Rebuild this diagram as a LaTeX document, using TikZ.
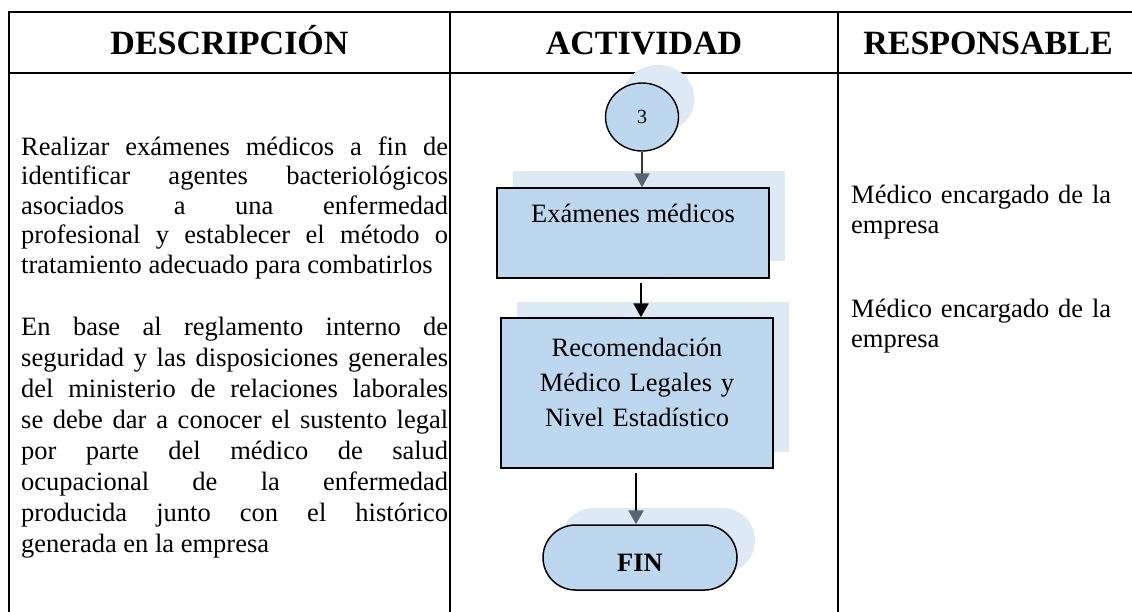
\documentclass[tikz,border=0pt]{standalone}
\usepackage{fontspec}
\setmainfont{Liberation Serif}
\usetikzlibrary{arrows.meta,shapes.misc,shapes.geometric,calc}
\definecolor{boxfill}{RGB}{189,215,238}
\definecolor{shadowc}{RGB}{221,233,245}
\definecolor{slate}{RGB}{90,100,112}
\begin{document}
\begin{tikzpicture}[x=1pt,y=-1pt,
  tabline/.style={line width=1.6pt, line cap=rect},
  headtxt/.style={font=\fontsize{34}{40}\selectfont\bfseries, anchor=base, inner sep=0pt},
  bodytxt/.style={font=\fontsize{26.5}{30}\selectfont, inner sep=0pt},
  procbox/.style={draw=black, line width=1.5pt, fill=boxfill, rectangle, inner sep=0pt},
  shbox/.style={fill=shadowc, draw=none, rectangle, inner sep=0pt},
  conncirc/.style={draw=black, line width=1.4pt, fill=boxfill, ellipse, inner sep=0pt, minimum width=73pt, minimum height=68pt},
  shcirc/.style={fill=shadowc, draw=none, ellipse, inner sep=0pt, minimum width=73pt, minimum height=68pt},
  term/.style={draw=black, line width=1.5pt, fill=boxfill, rounded rectangle, inner sep=0pt, minimum width=194pt, minimum height=65pt},
  shterm/.style={fill=shadowc, draw=none, rounded rectangle, inner sep=0pt, minimum width=194pt, minimum height=65pt},
  flowarr/.style={line width=2.6pt},
  sharr/.style={line width=2.6pt, draw=shadowc, -{Triangle[width=15pt,length=14pt]}}
]
\useasboundingbox (0,0) rectangle (1132,611);

% table
\draw[tabline] (9,611) -- (9,12) -- (1132,12);
\draw[tabline] (9,73) -- (1132,73);
\draw[tabline] (450,12) -- (450,611);
\draw[tabline] (838,12) -- (838,611);

% headers
\node[headtxt] (h1) at (229.5,54) {DESCRIPCIÓN};
\node[headtxt] (h2) at (644,54) {ACTIVIDAD};
\node[headtxt] (h3) at (988,54) {RESPONSABLE};

% shadows
\node[shcirc] (sc3) at (658,99) {};
\node[shbox, minimum width=272pt, minimum height=90pt] (sb1) at (649,216) {};
\node[shbox, minimum width=272pt, minimum height=150pt] (sb2) at (653,377) {};
\node[shterm] (sfin) at (658,540.5) {};
\draw[sharr] ($(sb1.south)+(8,4)$) -- ($(sb1.south)+(8,4)$ |- sb2.north);
\draw[sharr] ($(sb2.south)+(-1,2)$) -- ($(sb2.south)+(-1,2)$ |- sfin.north);

% main shapes
\node[conncirc] (c3) at (642,117) {};
\node[procbox, minimum width=272pt, minimum height=90pt] (b1) at (633,233) {};
\node[procbox, minimum width=272pt, minimum height=150pt] (b2) at (637,393) {};
\node[term] (fin) at (640,557.5) {};

% arrows
\draw[flowarr, draw={rgb,255:red,55;green,55;blue,55}, -{Triangle[width=15pt,length=14pt,color=slate]}]
  (c3.south) -- (c3.south |- b1.north);
\coordinate (a2s) at ($(b1.south -| c3.south)+(-1,4)$);
\draw[flowarr, draw=black, -{Triangle[width=15pt,length=14pt]}] (a2s) -- (a2s |- b2.north);
\coordinate (a3s) at ($(b2.south)+(-1,4)$);
\draw[flowarr, draw=black, -{Triangle[width=15pt,length=14pt,color=slate]}] (a3s) -- (a3s |- fin.north);

% texts in shapes
\node[font=\fontsize{20}{24}\selectfont, inner sep=0pt] (t3) at (c3.center) {3};
\node[bodytxt, anchor=base] (t1) at (633,222) {Exámenes médicos};
\node[inner sep=0pt, anchor=base, text width=272pt, align=center, font=\fontsize{26.5}{35}\selectfont] (t2) at (637,356)
  {Recomendación\\Médico Legales y\\Nivel Estadístico};
\node[font=\fontsize{26.5}{30}\selectfont\bfseries, inner sep=0pt] (tf) at (640,563) {FIN};

% description column
\node[bodytxt, font=\fontsize{26.5}{29.5}\selectfont, anchor=base west, text width=427pt, align=justify] (d1) at (21,155)
  {Realizar exámenes médicos a fin de\linebreak identificar agentes bacteriológicos\linebreak asociados a una enfermedad\linebreak profesional y establecer el método o\linebreak tratamiento adecuado para combatirlos};
\node[bodytxt, font=\fontsize{26.5}{31}\selectfont, anchor=base west, text width=427pt, align=justify] (d2) at (21,335)
  {En base al reglamento interno de\linebreak seguridad y las disposiciones generales\linebreak del ministerio de relaciones laborales\linebreak se debe dar a conocer el sustento legal\linebreak por parte del médico de salud\linebreak ocupacional de la enfermedad\linebreak producida junto con el histórico\linebreak generada en la empresa};

% responsible column
\node[bodytxt, anchor=base west, text width=280pt, align=left] (r1) at (851,203) {Médico encargado de la\\empresa};
\node[bodytxt, anchor=base west, text width=280pt, align=left] (r2) at (851,317) {Médico encargado de la\\empresa};
\end{tikzpicture}
\end{document}
